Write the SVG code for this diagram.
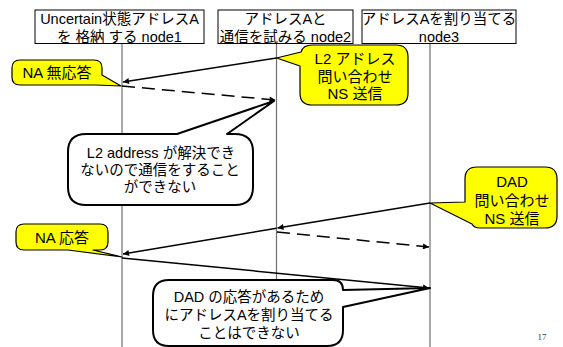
<svg xmlns="http://www.w3.org/2000/svg" width="563" height="347" viewBox="0 0 563 347">
<style>
text{font-family:"Liberation Sans","Noto Sans CJK JP",sans-serif;fill:#000;text-anchor:middle}
.hd{font-size:14.5px}
.cl{font-size:15px}
.bb{font-size:14.5px}
.box{fill:#fff;stroke:#000;stroke-width:1}
.life{stroke:#707070;stroke-width:1.2;fill:none}
.msg{stroke:#000;stroke-width:1.5;fill:none;marker-end:url(#ah)}
.dash{stroke-dasharray:13 7}
.yel{fill:#ffff00;stroke:#000;stroke-width:1.2;stroke-linejoin:round}
.wht{fill:#fff;stroke:#000;stroke-width:2;stroke-linejoin:round}
</style>
<defs>
<marker id="ah" viewBox="0 0 10 10" refX="10" refY="5" markerUnits="userSpaceOnUse" markerWidth="7" markerHeight="6" orient="auto">
<path d="M0,0 L10,5 L0,10 z" fill="#000"/>
</marker>
</defs>
<rect width="563" height="347" fill="#fff"/>
<g id="lifelines">
<line class="life" x1="122" y1="43" x2="122" y2="347"/>
<line class="life" x1="276.5" y1="43" x2="276.5" y2="347"/>
<line class="life" x1="430" y1="43" x2="430" y2="347"/>
</g>
<g id="node1">
<rect class="box" x="35" y="10" width="169" height="33.5"/>
<text class="hd" x="119.5" y="23.5">Uncertain状態アドレスA</text>
<text class="hd" x="119.5" y="41.5">を 格納 する node1</text>
</g>
<g id="node2">
<rect class="box" x="218" y="10" width="135" height="33.5"/>
<text class="hd" x="285.5" y="23.5">アドレスAと</text>
<text class="hd" x="285.5" y="41.5">通信を試みる node2</text>
</g>
<g id="node3">
<rect class="box" x="362" y="10" width="154" height="33.5"/>
<text class="hd" x="439" y="23.5">アドレスAを割り当てる</text>
<text class="hd" x="439" y="41.5">node3</text>
</g>
<g id="connectors">
<line class="msg" x1="276.5" y1="58" x2="123" y2="82"/>
<line class="msg dash" x1="122" y1="86" x2="275.5" y2="100"/>
<line class="msg" x1="430" y1="203" x2="277.5" y2="228"/>
<line class="msg" x1="276.5" y1="228.2" x2="123" y2="254"/>
<line class="msg dash" x1="277" y1="232" x2="429" y2="247"/>
<line class="msg" x1="122" y1="258" x2="429" y2="288"/>
</g>
<g id="callout-na-none">
<path class="yel" d="M20,60 H94 Q102,60 102,68 V75 L121,86 L96,85 H20 Q12,85 12,77 V68 Q12,60 20,60 Z"/>
<text class="cl" x="57" y="78">NA 無応答</text>
</g>
<g id="callout-l2">
<path class="yel" d="M312,45 H396 Q408,45 408,57 V93 Q408,105 396,105 H312 Q300,105 300,93 V66 L276.5,58 L301,52 Q303,45 312,45 Z"/>
<text class="cl" x="355" y="63.5">L2 アドレス</text>
<text class="cl" x="355" y="81.5">問い合わせ</text>
<text class="cl" x="355" y="99">NS 送信</text>
</g>
<g id="bubble-l2">
<path class="wht" d="M86,134 H177 L274,101 L227,134 H235 Q253,134 253,152 V187 Q253,205 235,205 H86 Q68,205 68,187 V152 Q68,134 86,134 Z"/>
<text class="bb" x="161" y="158">L2 address が解決でき</text>
<text class="bb" x="160" y="175">ないので通信をすること</text>
<text class="bb" x="160" y="192">ができない</text>
</g>
<g id="callout-dad">
<path class="yel" d="M477,167 H545 Q557,167 557,179 V216 Q557,228 545,228 H480 Q474,228 472,224 L430,203 L465,202 V179 Q465,167 477,167 Z"/>
<text class="cl" x="512" y="187">DAD</text>
<text class="cl" x="512" y="205.5">問い合わせ</text>
<text class="cl" x="512" y="224">NS 送信</text>
</g>
<g id="callout-na">
<path class="yel" d="M24,224 H100 Q108,224 108,232 V242 Q108,250 100,250 H93 L122,257 L68,250 H24 Q16,250 16,242 V232 Q16,224 24,224 Z"/>
<text class="cl" x="62" y="243">NA 応答</text>
</g>
<g id="bubble-dad">
<path class="wht" d="M169,280 H333 Q343,280 343,290 L430,288 L343,307 V330 Q343,346 327,346 H169 Q153,346 153,330 V296 Q153,280 169,280 Z"/>
<text class="bb" x="249" y="302">DAD の応答があるため</text>
<text class="bb" x="249" y="320">にアドレスAを割り当てる</text>
<text class="bb" x="249" y="338">ことはできない</text>
</g>
<text x="542" y="340" style="font-family:'Liberation Serif',serif;font-size:9px;fill:#404040">17</text>
</svg>
